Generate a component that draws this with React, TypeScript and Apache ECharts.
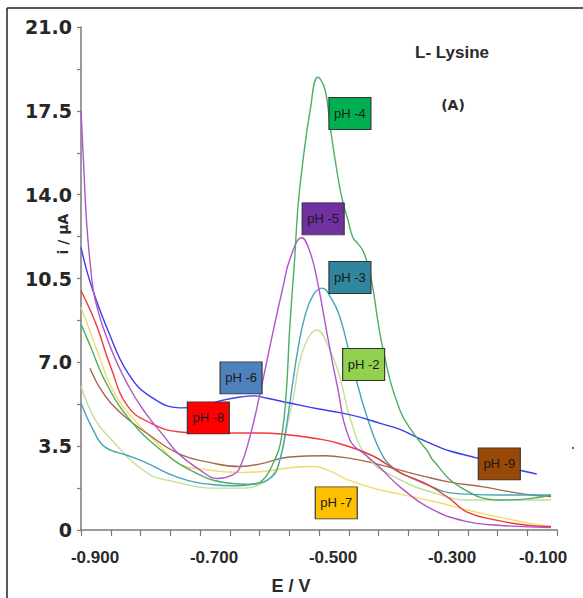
import React, { useEffect, useRef } from 'react';
import * as echarts from 'echarts';

const seriesNames = ['pH -7', 'pH -9', 'pH -2', 'pH -3', 'pH -8', 'pH -6', 'pH -5', 'pH -4'];
const lineColors = ['#f0dc66', '#a3694a', '#bfe096', '#45a5b8', '#f03a3a', '#3c3cf2', '#b055c8', '#4daf62'];
const boxColors = ['#ffc000', '#984807', '#92d050', '#31859c', '#ff0000', '#4f81bd', '#7030a0', '#00b050'];

const ph7: number[][] = [
  [-0.9, 9.3], [-0.885, 8.3], [-0.87, 7.3], [-0.85, 6.0], [-0.821, 4.9], [-0.766, 3.47], [-0.734, 2.75],
  [-0.7, 2.55], [-0.633, 2.4], [-0.59, 2.45], [-0.549, 2.6], [-0.51, 2.65], [-0.48, 2.45], [-0.453, 2.1],
  [-0.397, 1.67], [-0.364, 1.5], [-0.3, 1.15], [-0.251, 0.84], [-0.2, 0.55], [-0.15, 0.3], [-0.11, 0.13],
];
const ph9: number[][] = [
  [-0.885, 6.75], [-0.87, 6.0], [-0.85, 5.3], [-0.82, 4.6], [-0.79, 4.05], [-0.737, 3.2], [-0.68, 2.8],
  [-0.633, 2.65], [-0.6, 2.75], [-0.55, 3.05], [-0.49, 3.1], [-0.45, 3.0], [-0.41, 2.8], [-0.364, 2.5],
  [-0.325, 2.25], [-0.28, 2.0], [-0.224, 1.8], [-0.18, 1.6], [-0.14, 1.45], [-0.11, 1.4],
];
const ph2: number[][] = [
  [-0.9, 6.0], [-0.876, 4.6], [-0.85, 3.8], [-0.79, 2.4], [-0.74, 2.0], [-0.68, 1.75], [-0.633, 1.75],
  [-0.6, 1.9], [-0.575, 2.4], [-0.562, 3.3], [-0.553, 4.4], [-0.544, 5.4], [-0.527, 7.5], [-0.503, 8.35],
  [-0.485, 7.7], [-0.465, 6.4], [-0.448, 4.7], [-0.419, 3.05], [-0.364, 2.1], [-0.3, 1.5], [-0.25, 1.25],
  [-0.11, 1.25],
];
const ph3: number[][] = [
  [-0.9, 5.3], [-0.88, 4.2], [-0.86, 3.47], [-0.82, 3.1], [-0.79, 2.8], [-0.737, 2.2], [-0.68, 1.9],
  [-0.64, 1.85], [-0.616, 1.9], [-0.58, 2.2], [-0.565, 3.0], [-0.555, 4.3], [-0.545, 6.0], [-0.535, 7.6],
  [-0.524, 8.9], [-0.51, 9.8], [-0.495, 10.1], [-0.48, 9.7], [-0.465, 8.9], [-0.443, 6.8], [-0.419, 4.7],
  [-0.392, 3.05], [-0.37, 2.5], [-0.347, 2.2], [-0.31, 1.8], [-0.28, 1.55], [-0.2, 1.46], [-0.11, 1.46],
];
const ph8: number[][] = [
  [-0.9, 10.0], [-0.885, 9.2], [-0.871, 8.35], [-0.85, 6.8], [-0.821, 5.15], [-0.782, 4.45], [-0.737, 4.1],
  [-0.7, 4.05], [-0.65, 4.05], [-0.6, 4.05], [-0.56, 4.0], [-0.5, 3.8], [-0.465, 3.6], [-0.41, 3.1],
  [-0.364, 2.4], [-0.318, 1.9], [-0.28, 1.3], [-0.251, 0.75], [-0.2, 0.4], [-0.15, 0.2], [-0.11, 0.15],
];
const ph6: number[][] = [
  [-0.9, 11.8], [-0.89, 10.8], [-0.88, 10.0], [-0.855, 8.35], [-0.821, 6.55], [-0.782, 5.55], [-0.732, 5.1],
  [-0.7, 5.15], [-0.665, 5.4], [-0.633, 5.55], [-0.61, 5.6], [-0.587, 5.5], [-0.549, 5.3], [-0.5, 5.05],
  [-0.465, 4.9], [-0.43, 4.7], [-0.397, 4.45], [-0.364, 4.2], [-0.33, 3.8], [-0.297, 3.45], [-0.28, 3.3],
  [-0.234, 3.0], [-0.179, 2.6], [-0.134, 2.34],
];
const ph5: number[][] = [
  [-0.9, 17.5], [-0.896, 15.5], [-0.891, 13.0], [-0.884, 11.0], [-0.876, 9.6], [-0.85, 7.6], [-0.82, 6.0],
  [-0.792, 4.9], [-0.76, 3.9], [-0.737, 3.2], [-0.7, 2.5], [-0.67, 2.15], [-0.645, 2.3], [-0.633, 2.6],
  [-0.615, 4.0], [-0.6, 5.6], [-0.577, 8.3], [-0.56, 10.2], [-0.549, 11.3], [-0.529, 12.2], [-0.515, 11.6],
  [-0.502, 10.3], [-0.485, 8.0], [-0.47, 6.1], [-0.448, 3.76], [-0.42, 3.1], [-0.397, 2.6], [-0.364, 1.8],
  [-0.308, 0.84], [-0.251, 0.35], [-0.2, 0.2], [-0.11, 0.1],
];
const ph4: number[][] = [
  [-0.9, 8.6], [-0.883, 7.6], [-0.86, 6.25], [-0.821, 4.7], [-0.766, 3.34], [-0.708, 2.4], [-0.653, 1.96],
  [-0.615, 1.9], [-0.594, 2.1], [-0.575, 2.9], [-0.565, 3.6], [-0.556, 5.4], [-0.549, 8.5], [-0.541, 11.3],
  [-0.535, 13.6], [-0.527, 15.4], [-0.515, 17.5], [-0.502, 18.9], [-0.49, 18.4], [-0.481, 16.8],
  [-0.47, 15.0], [-0.461, 13.8], [-0.452, 13.0], [-0.443, 12.2], [-0.436, 12.0], [-0.425, 11.6],
  [-0.414, 10.7], [-0.392, 7.5], [-0.364, 5.0], [-0.34, 4.0], [-0.318, 3.3], [-0.308, 2.9], [-0.263, 1.8],
  [-0.196, 1.25], [-0.15, 1.3], [-0.11, 1.45],
];
const seriesData = [ph7, ph9, ph2, ph3, ph8, ph6, ph5, ph4];
const labelPos: number[][] = [
  [-0.471, 1.13], [-0.197, 2.76], [-0.425, 6.91], [-0.448, 10.54],
  [-0.686, 4.68], [-0.631, 6.35], [-0.493, 12.99], [-0.448, 17.39],
];

const xTickLabels = ['-0.900', '-0.700', '-0.500', '-0.300', '-0.100'];
const yTickLabels = ['0', '3.5', '7.0', '10.5', '14.0', '17.5', '21.0'];

export default function App() {
  const ref = useRef<HTMLDivElement>(null);
  useEffect(() => {
    const chart = echarts.init(ref.current!, null, { renderer: 'svg' });
    const xFont = { fontFamily: 'Liberation Sans, Arial, sans-serif', fontWeight: 'bold', fontSize: 17, color: '#2a2a2a' };
    chart.setOption({
      animation: false,
      backgroundColor: '#ffffff',
      grid: { left: 81, right: 26, top: 27, bottom: 68, outerBoundsMode: 'none' },
      xAxis: {
        type: 'value',
        min: -0.9,
        max: -0.1,
        interval: 0.05,
        splitLine: { show: false },
        axisLine: { onZero: false, lineStyle: { color: '#7a7a7a', width: 1.5 } },
        axisTick: { length: 6, lineStyle: { color: '#7a7a7a', width: 1.2 } },
        axisLabel: {
          interval: 0,
          margin: 19,
          ...xFont,
          formatter: (v: number) => {
            const s = (Math.round(v * 1000) / 1000).toFixed(3);
            if (s === '-0.100') return '{b|' + s + '}';
            if (xTickLabels.includes(s)) return '{a|' + s + '}';
            return '';
          },
          rich: {
            a: { ...xFont, padding: [0, 0, 0, 28] },
            b: { ...xFont, padding: [0, 28, 0, 0] },
          },
        },
      },
      yAxis: {
        type: 'value',
        min: 0,
        max: 21,
        interval: 1.75,
        splitLine: { show: false },
        axisLine: { show: true, lineStyle: { color: '#7a7a7a', width: 1.5 } },
        axisTick: { show: true, length: 4, lineStyle: { color: '#7a7a7a', width: 1.2 } },
        axisLabel: {
          interval: 0,
          margin: 9,
          fontFamily: 'DejaVu Sans',
          fontWeight: 'bold',
          fontSize: 19,
          color: '#262626',
          formatter: (v: number) => {
            const k = Math.round(v / 1.75);
            if (k % 2 !== 0) return '';
            return yTickLabels[k / 2] ?? '';
          },
        },
      },
      series: seriesData.map((d, k) => ({
        type: 'line',
        name: seriesNames[k],
        data: d,
        showSymbol: false,
        smooth: 0.45,
        lineStyle: { color: lineColors[k], width: 1.4 },
        itemStyle: { color: lineColors[k] },
        silent: true,
        markPoint: {
          silent: true,
          symbol: 'rect',
          symbolSize: [42, 32],
          itemStyle: { color: boxColors[k], borderColor: '#333333', borderWidth: 1 },
          label: {
            show: true,
            position: 'inside',
            formatter: seriesNames[k],
            color: '#1a1a1a',
            fontSize: 13,
            fontFamily: 'Liberation Sans, Arial, sans-serif',
          },
          data: [{ coord: labelPos[k] }],
        },
      })),
      graphic: [
        { type: 'line', shape: { x1: 7, y1: 8, x2: 7, y2: 598 }, style: { stroke: '#222', lineWidth: 1.5 } },
        { type: 'line', shape: { x1: 7, y1: 8, x2: 583, y2: 8 }, style: { stroke: '#222', lineWidth: 1.5 } },
        {
          type: 'text', x: 452, y: 52,
          style: { text: 'L- Lysine', fontFamily: 'Liberation Sans, Arial, sans-serif', fontWeight: 'bold', fontSize: 17, fill: '#2a2a2a', align: 'center', verticalAlign: 'middle' },
        },
        {
          type: 'text', x: 453, y: 105,
          style: { text: '(A)', fontFamily: 'DejaVu Sans', fontWeight: 'bold', fontSize: 14, fill: '#2a2a2a', align: 'center', verticalAlign: 'middle' },
        },
        {
          type: 'text', x: 291, y: 586,
          style: { text: 'E / V', fontFamily: 'Liberation Sans, Arial, sans-serif', fontWeight: 'bold', fontSize: 18, fill: '#2a2a2a', align: 'center', verticalAlign: 'middle' },
        },
        {
          type: 'text', x: 63, y: 234, rotation: Math.PI / 2,
          style: { text: 'i / μA', fontFamily: 'DejaVu Sans', fontWeight: 'bold', fontSize: 14, fill: '#2a2a2a', align: 'center', verticalAlign: 'middle' },
        },
        { type: 'circle', shape: { cx: 573, cy: 448, r: 1 }, style: { fill: '#444' } },
      ],
    });
    return () => chart.dispose();
  }, []);
  return (
    <div
      ref={ref}
      style={{ position: 'fixed', left: 0, top: 0, width: 583, height: 598, background: '#fff' }}
    />
  );
}
